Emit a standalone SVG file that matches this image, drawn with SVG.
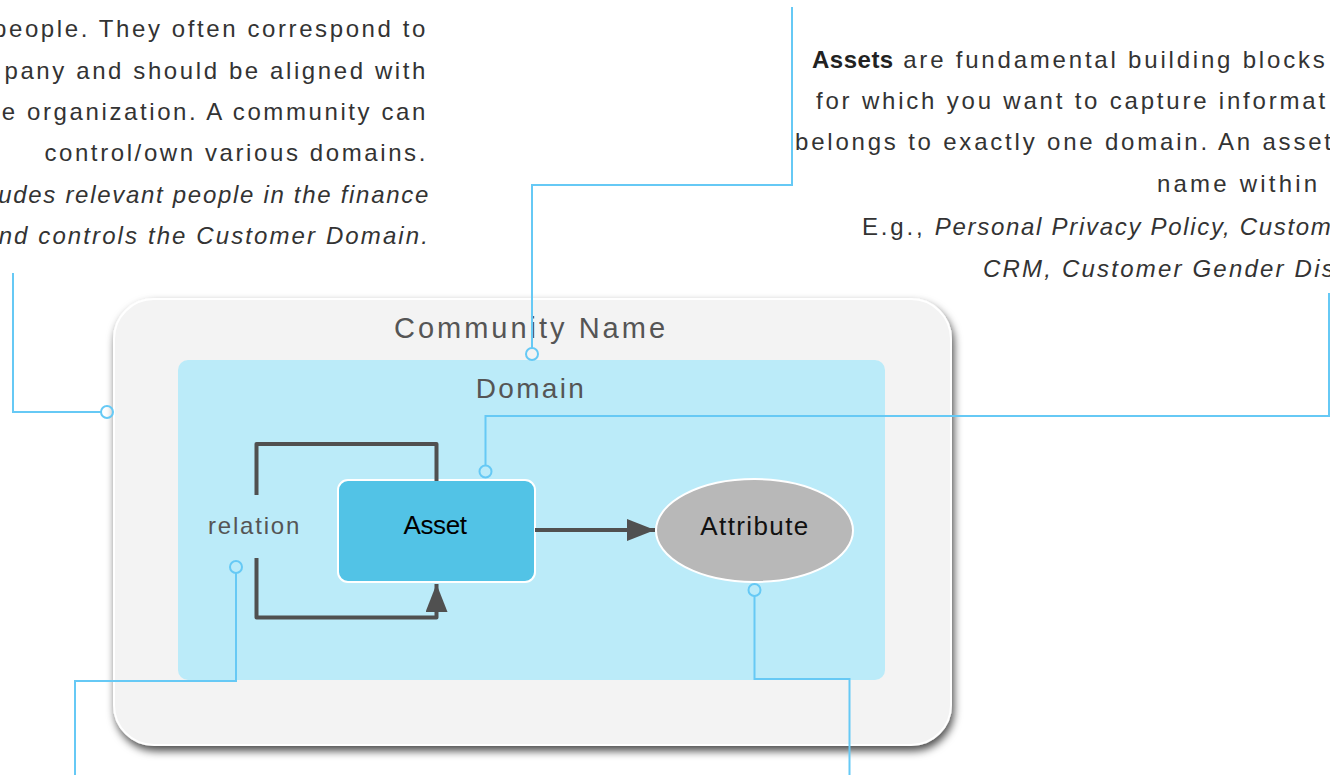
<svg xmlns="http://www.w3.org/2000/svg" width="1330" height="775" viewBox="0 0 1330 775">
<defs>
<filter id="sh" x="-10%" y="-10%" width="120%" height="125%">
<feDropShadow dx="2" dy="5" stdDeviation="4" flood-color="#000" flood-opacity="0.7"/>
</filter>
<marker id="ah" viewBox="0 0 28 22" refX="28" refY="11" markerWidth="28" markerHeight="22" markerUnits="userSpaceOnUse" orient="auto">
<path d="M0,0 L28,11 L0,22 Z" fill="#505050"/>
</marker>
</defs>
<style>
text{font-family:"Liberation Sans",Arial,sans-serif}
.note{font-size:24px;fill:#333;letter-spacing:2.6px}
.it{font-style:italic;letter-spacing:1.7px}
.co{fill:none;stroke:#66c9f5;stroke-width:2}
.dot{fill:none;stroke:#66c9f5;stroke-width:2}
.rel{fill:none;stroke:#505050;stroke-width:4;stroke-linejoin:round}
</style>
<g id="community">
<rect x="114" y="299" width="837" height="446" rx="40" fill="#f3f3f3" stroke="#fff" stroke-width="2" filter="url(#sh)"/>
<text x="531" y="338" text-anchor="middle" style="font-size:29px;letter-spacing:3px;fill:#555">Community Name</text>
</g>
<g id="domain">
<rect x="178" y="360" width="707" height="320" rx="10" fill="#bbebf9"/>
<text x="531" y="398" text-anchor="middle" style="font-size:28px;letter-spacing:2.3px;fill:#555">Domain</text>
</g>
<g id="asset">
<rect x="338" y="480" width="197" height="102" rx="10" fill="#52c3e6" stroke="#fff" stroke-width="2"/>
<text x="435" y="534" text-anchor="middle" style="font-size:26px;letter-spacing:-0.4px;fill:#000">Asset</text>
</g>
<g id="attribute">
<ellipse cx="754.5" cy="530.5" rx="98.5" ry="51.5" fill="#b8b8b8" stroke="#fff" stroke-width="2"/>
<text x="755" y="535" text-anchor="middle" style="font-size:26px;letter-spacing:1.4px;fill:#111">Attribute</text>
</g>
<g id="relation">
<text x="208" y="534" style="font-size:24px;letter-spacing:1.8px;fill:#555">relation</text>
</g>
<g id="connectors">
<path class="rel" d="M256.5,495 V444 H436.5 V481"/>
<path class="rel" d="M256.5,558 V617.5 H436.5 V584" marker-end="url(#ah)"/>
<path class="rel" d="M535,530 H655" marker-end="url(#ah)"/>
<path class="co" d="M101,412 H13 V273"/>
<circle class="dot" cx="107" cy="412" r="6"/>
<path class="co" d="M532,348 V185 H792 V7"/>
<circle class="dot" cx="532" cy="354" r="6"/>
<path class="co" d="M485.5,465.5 V416 H1329 V293"/>
<circle class="dot" cx="485.5" cy="471.5" r="6"/>
<path class="co" d="M236,573 V681 H75 V775"/>
<circle class="dot" cx="236" cy="567" r="6"/>
<path class="co" d="M754.5,596 V679 H849.5 V775"/>
<circle class="dot" cx="754.5" cy="590" r="6"/>
</g>
<g id="community-note">
<text class="note" x="428" y="37" text-anchor="end">people. They often correspond to</text>
<text class="note" x="428" y="79" text-anchor="end">pany and should be aligned with</text>
<text class="note" x="428" y="120" text-anchor="end">e organization. A community can</text>
<text class="note" x="428" y="161" text-anchor="end">control/own various domains.</text>
<text class="note it" x="430" y="203" text-anchor="end">udes relevant people in the finance</text>
<text class="note it" x="430" y="244" text-anchor="end" style="letter-spacing:2.1px">nd controls the Customer Domain.</text>
</g>
<g id="asset-note">
<text class="note" x="812" y="68" style="letter-spacing:2.8px"><tspan style="font-weight:bold;letter-spacing:0.5px;fill:#222">Assets</tspan> are fundamental building blocks</text>
<text class="note" x="816" y="109" style="letter-spacing:2.8px">for which you want to capture informat</text>
<text class="note" x="795" y="150" style="letter-spacing:2.8px">belongs to exactly one domain. An asset</text>
<text class="note" x="1157" y="192" style="letter-spacing:3.2px">name within</text>
<text class="note" x="862" y="235" style="letter-spacing:2.8px">E.g., <tspan class="it">Personal Privacy Policy, Custom</tspan></text>
<text class="note it" x="983" y="277" style="letter-spacing:2.2px">CRM, Customer Gender Dis</text>
</g>
</svg>
